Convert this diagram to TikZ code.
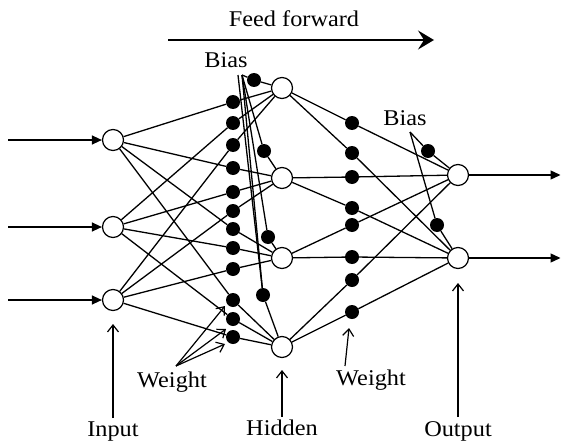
\documentclass[tikz,border=0pt]{standalone}
\usepackage{fontspec}
\setmainfont{Liberation Serif}[FakeStretch=1.08]
\usetikzlibrary{arrows.meta}
\pgfdeclarelayer{bg}
\pgfsetlayers{bg,main}
\begin{document}
\begin{tikzpicture}[x=1pt,y=-1pt,
  neuron/.style={circle, draw, fill=white, minimum size=21pt, inner sep=0pt, line width=1.2pt},
  wdot/.style={circle, fill=black, minimum size=14pt, inner sep=0pt},
  conn/.style={line width=1.3pt},
  lbl/.style={font=\fontsize{22.5}{26}\selectfont, inner sep=0pt, anchor=base},
  ptr/.style={line width=1.2pt, -{Straight Barb[length=7pt,width=11pt,line width=1.2pt]}},
  inarr/.style={line width=1.3pt, -{Triangle[length=10pt,width=9pt]}},
]
\useasboundingbox (0,0) rectangle (561,441);

% neurons
\node[neuron] (I1) at (113,140) {};
\node[neuron] (I2) at (113,227) {};
\node[neuron] (I3) at (113,300) {};
\node[neuron] (H1) at (282,88) {};
\node[neuron] (H2) at (282,178) {};
\node[neuron] (H3) at (282,258) {};
\node[neuron] (H4) at (282,347) {};
\node[neuron] (O1) at (458,175) {};
\node[neuron] (O2) at (458,258) {};

% layer 1 weights
\node[wdot] (w11) at (233,102) {};
\node[wdot] (w21) at (233,123) {};
\node[wdot] (w31) at (233,145) {};
\node[wdot] (w12) at (233,168) {};
\node[wdot] (w22) at (233,192) {};
\node[wdot] (w32) at (233,211) {};
\node[wdot] (w13) at (233,229) {};
\node[wdot] (w23) at (233,248) {};
\node[wdot] (w33) at (233,269) {};
\node[wdot] (w14) at (233,300) {};
\node[wdot] (w24) at (233,319) {};
\node[wdot] (w34) at (233,337) {};

% hidden biases
\coordinate (bA) at (242,75);
\coordinate (bA2) at (238,75);
\node[wdot] (b1) at (254,80) {};
\node[wdot] (b2) at (264,151) {};
\node[wdot] (b3) at (268,237) {};
\node[wdot] (b4) at (263,295) {};

% layer 2 weights
\node[wdot] (v11) at (352,123) {};
\node[wdot] (v12) at (352,153) {};
\node[wdot] (v21) at (352,177) {};
\node[wdot] (v22) at (352,208) {};
\node[wdot] (v31) at (352,225) {};
\node[wdot] (v32) at (352,257) {};
\node[wdot] (v41) at (352,280) {};
\node[wdot] (v42) at (352,312) {};

% output biases
\coordinate (cA) at (410,132);
\node[wdot] (c1) at (428,151) {};
\node[wdot] (c2) at (437,225) {};

% labels
\node[lbl] (ff) at (294,27) {Feed forward};
\node[lbl] (biasL) at (226,68) {Bias};
\node[lbl] (biasR) at (405,125) {Bias};
\node[lbl] (wL) at (172,387) {Weight};
\node[lbl] (wR) at (371,385) {Weight};
\node[lbl] (inL) at (113,436) {Input};
\node[lbl] (hidL) at (282,435) {Hidden};
\node[lbl] (outL) at (458,436) {Output};

\begin{pgfonlayer}{bg}
\draw[conn] (I1) -- (w11) -- (H1);
\draw[conn] (I2) -- (w21) -- (H1);
\draw[conn] (I3) -- (w31) -- (H1);
\draw[conn] (I1) -- (w12) -- (H2);
\draw[conn] (I2) -- (w22) -- (H2);
\draw[conn] (I3) -- (w32) -- (H2);
\draw[conn] (I1) -- (w13) -- (H3);
\draw[conn] (I2) -- (w23) -- (H3);
\draw[conn] (I3) -- (w33) -- (H3);
\draw[conn] (I1) -- (w14) -- (H4);
\draw[conn] (I2) -- (w24) -- (H4);
\draw[conn] (I3) -- (w34) -- (H4);

\draw[conn] (bA) -- (b1) -- (H1);
\draw[conn] (bA) -- (b2) -- (H2);
\draw[conn] (bA) -- (b3) -- (H3);
\draw[conn] (bA) -- (b4) -- (H4);
\draw[conn] (bA2) -- (b4);

\draw[conn] (H1) -- (v11) -- (O1);
\draw[conn] (H1) -- (v12) -- (O2);
\draw[conn] (H2) -- (v21) -- (O1);
\draw[conn] (H2) -- (v22) -- (O2);
\draw[conn] (H3) -- (v31) -- (O1);
\draw[conn] (H3) -- (v32) -- (O2);
\draw[conn] (H4) -- (v41) -- (O1);
\draw[conn] (H4) -- (v42) -- (O2);

\draw[conn] (cA) -- (c1) -- (O1);
\draw[conn] (cA) -- (c2) -- (O2);
\end{pgfonlayer}

% input / output arrows
\coordinate (s1) at (8,140);
\coordinate (s2) at (8,227);
\coordinate (s3) at (8,300);
\draw[inarr] (s1) -- (I1);
\draw[inarr] (s2) -- (I2);
\draw[inarr] (s3) -- (I3);
\coordinate (e1) at (560.5,175);
\coordinate (e2) at (560.5,258);
\draw[inarr] (O1) -- (e1);
\draw[inarr] (O2) -- (e2);

% feed forward arrow
\coordinate (ffA) at (168,40);
\coordinate (ffB) at (434,40);
\draw[line width=1.8pt, -{Stealth[length=16pt,width=19pt,inset=6pt]}] (ffA) -- (ffB);

% weight pointers
\coordinate (wApex) at (176,366);
\coordinate (t1) at (225,306);
\coordinate (t2) at (226,329);
\coordinate (t3) at (225,344);
\draw[ptr] (wApex) -- (t1);
\draw[ptr] (wApex) -- (t2);
\draw[ptr] (wApex) -- (t3);
\coordinate (wApex2) at (345,366);
\coordinate (t4) at (349,328);
\draw[ptr] (wApex2) -- (t4);

% bottom pointers
\coordinate (pin) at (113,418);
\coordinate (pinT) at (113,324);
\draw[ptr] (pin) -- (pinT);
\coordinate (phid) at (282,417);
\coordinate (phidT) at (282,370);
\draw[ptr] (phid) -- (phidT);
\coordinate (pout) at (458,417);
\coordinate (poutT) at (458,283);
\draw[ptr] (pout) -- (poutT);
\end{tikzpicture}
\end{document}
